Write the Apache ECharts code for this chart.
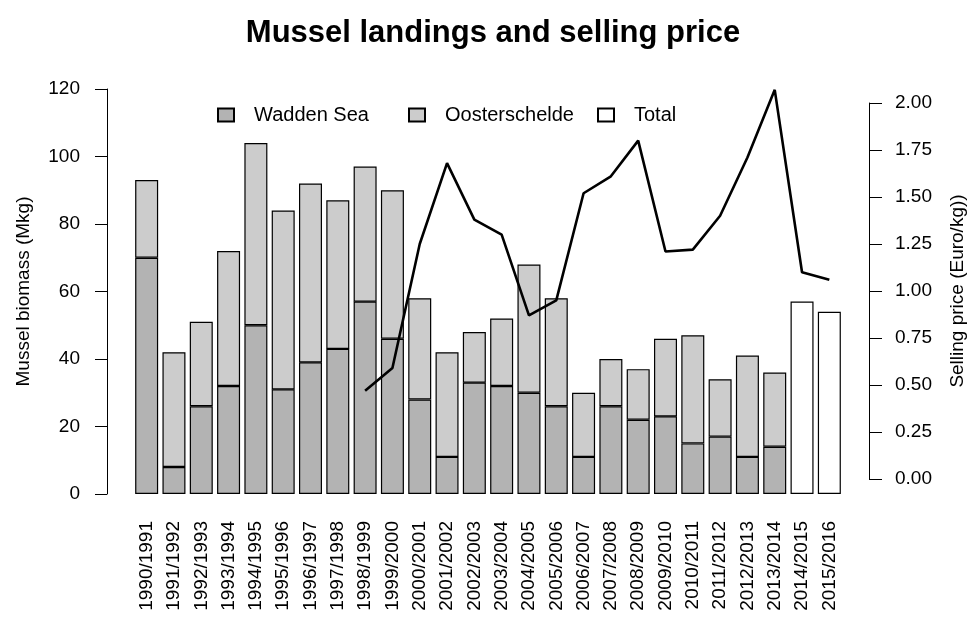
<!DOCTYPE html>
<html>
<head>
<meta charset="utf-8" />
<script src="https://cdn.jsdelivr.net/npm/echarts@6/dist/echarts.min.js"></script>
<style>
  html, body { margin: 0; padding: 0; background: #fff; }
  #chart { width: 975px; height: 619px; }
</style>
</head>
<body>
<div id="chart"></div>
<script>
// seasons on the x axis
var seasons = [
  "1990/1991", "1991/1992", "1992/1993", "1993/1994", "1994/1995", "1995/1996",
  "1996/1997", "1997/1998", "1998/1999", "1999/2000", "2000/2001", "2001/2002",
  "2002/2003", "2003/2004", "2004/2005", "2005/2006", "2006/2007", "2007/2008",
  "2008/2009", "2009/2010", "2010/2011", "2011/2012", "2012/2013", "2013/2014",
  "2014/2015", "2015/2016"
];
// landings (Mkg)
var waddenSea = [70, 8, 26, 32, 50, 31, 39, 43, 57, 46, 28, 11, 33, 32, 30, 26, 11, 26, 22, 23, 15, 17, 11, 14, null, null];
var oosterschelde = [23, 34, 25, 40, 54, 53, 53, 44, 40, 44, 30, 31, 15, 20, 38, 32, 19, 14, 15, 23, 32, 17, 30, 22, null, null];
var total = [null, null, null, null, null, null, null, null, null, null, null, null, null, null, null, null, null, null, null, null, null, null, null, null, 57, 54];
// selling price (Euro/kg)
var price = [null, null, null, null, null, null, null, null, 0.47, 0.59, 1.25, 1.68, 1.38, 1.30, 0.87, 0.95, 1.52, 1.61, 1.80, 1.21, 1.22, 1.40, 1.71, 2.07, 1.10, 1.06];
// axis ticks
var biomassTicks = { min: 0, max: 120, interval: 20 };
var priceTicks = { min: 0, max: 2, interval: 0.25 };

var font = "Liberation Sans, Arial, Helvetica, sans-serif";
var myChart = echarts.init(document.getElementById("chart"));
var barBorder = { borderColor: "#000", borderWidth: 1.2 };

function legendItem(name, left) {
  return {
    data: [name],
    left: left,
    top: 100,
    itemWidth: 16,
    itemHeight: 13,
    icon: "rect",
    selectedMode: false,
    textStyle: { fontFamily: font, fontSize: 20, color: "#000", padding: [0, 0, 0, 15] },
  };
}

var option = {
  animation: false,
  title: {
    text: "Mussel landings and selling price",
    left: 488,
    top: 13,
    textAlign: "center",
    textStyle: { fontFamily: font, fontSize: 31, fontWeight: "bold", color: "#000" },
  },
  legend: [
    legendItem("Wadden Sea", 212),
    legendItem("Oosterschelde", 403),
    legendItem("Total", 592),
  ],
  grid: [
    { left: 133, right: 132, top: 89, bottom: 125 },
    { left: 133, right: 132, top: 103, bottom: 140 },
  ],
  xAxis: [
    {
      type: "category",
      gridIndex: 0,
      data: seasons,
      axisLine: { show: false },
      axisTick: { show: false },
      axisLabel: { rotate: 90, margin: 27, interval: 0, fontFamily: font, fontSize: 19, color: "#000" },
    },
    {
      type: "category",
      gridIndex: 1,
      data: seasons,
      show: false,
    },
  ],
  yAxis: [
    {
      type: "value",
      gridIndex: 0,
      min: biomassTicks.min,
      max: biomassTicks.max,
      interval: biomassTicks.interval,
      offset: 26,
      name: "Mussel biomass (Mkg)",
      nameLocation: "middle",
      nameRotate: 90,
      nameGap: 74,
      nameTextStyle: { fontFamily: font, fontSize: 19, color: "#000" },
      axisLine: { show: true, lineStyle: { color: "#000", width: 1 } },
      axisTick: { show: true, length: 12, lineStyle: { color: "#000" } },
      axisLabel: { margin: 27, fontFamily: font, fontSize: 19, color: "#000" },
      splitLine: { show: false },
    },
    {
      type: "value",
      gridIndex: 1,
      position: "right",
      min: priceTicks.min,
      max: priceTicks.max,
      interval: priceTicks.interval,
      offset: 26,
      name: "Selling price (Euro/kg))",
      nameLocation: "middle",
      nameRotate: 90,
      nameGap: 79,
      nameTextStyle: { fontFamily: font, fontSize: 19, color: "#000" },
      axisLine: { show: true, lineStyle: { color: "#000", width: 1 } },
      axisTick: { show: true, length: 13, lineStyle: { color: "#000" } },
      axisLabel: {
        margin: 26,
        fontFamily: font,
        fontSize: 19,
        color: "#000",
        formatter: function (v) { return v.toFixed(2); },
      },
      splitLine: { show: false },
    },
  ],
  series: [
    {
      name: "Wadden Sea",
      type: "bar",
      stack: "landings",
      xAxisIndex: 0,
      yAxisIndex: 0,
      data: waddenSea,
      barWidth: 23,
      barGap: "-100%",
      itemStyle: Object.assign({ color: "#b3b3b3" }, barBorder),
    },
    {
      name: "Oosterschelde",
      type: "bar",
      stack: "landings",
      xAxisIndex: 0,
      yAxisIndex: 0,
      data: oosterschelde,
      barWidth: 23,
      barGap: "-100%",
      itemStyle: Object.assign({ color: "#cccccc" }, barBorder),
    },
    {
      name: "Total",
      type: "bar",
      xAxisIndex: 0,
      yAxisIndex: 0,
      data: total,
      barWidth: 23,
      barGap: "-100%",
      itemStyle: Object.assign({ color: "#ffffff" }, barBorder),
    },
    {
      name: "Selling price",
      type: "line",
      xAxisIndex: 1,
      yAxisIndex: 1,
      data: price,
      symbol: "none",
      clip: false,
      lineStyle: { color: "#000", width: 2.6 },
      z: 5,
    },
  ],
};
option && myChart.setOption(option);
</script>
</body>
</html>
